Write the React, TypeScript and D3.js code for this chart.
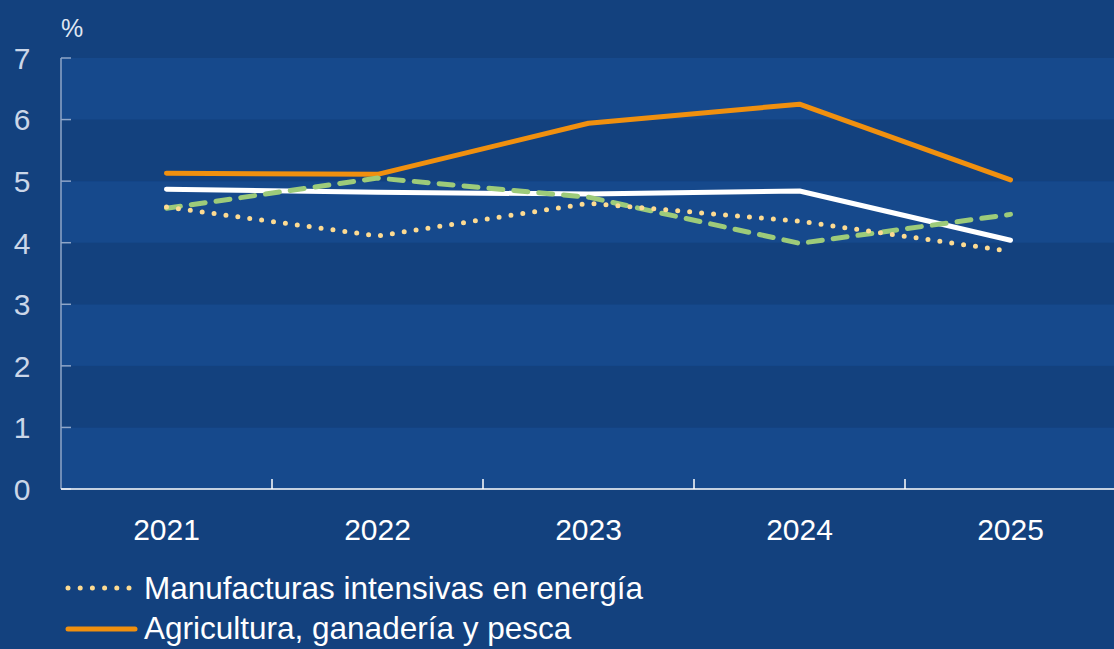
import React from "react";
import * as d3 from "d3";

const years = ["2021", "2022", "2023", "2024", "2025"];
const manufacturas = [4.58, 4.11, 4.64, 4.35, 3.86];
const agricultura = [5.13, 5.11, 5.94, 6.25, 5.02];
const serieBlanca = [4.87, 4.82, 4.79, 4.84, 4.04];
const serieVerde = [4.56, 5.05, 4.74, 3.99, 4.46];
const yTicks = [0, 1, 2, 3, 4, 5, 6, 7];
const legendLabels = ["Manufacturas intensivas en energía", "Agricultura, ganadería y pesca"];

const W = 1114;
const H = 649;
const FONT = "'Liberation Sans', Arial, Helvetica, sans-serif";

export default function App() {
  const x = d3.scaleBand().domain(years).range([61, 1116]).padding(0);
  const y = d3.scaleLinear().domain([0, 7]).range([489, 58]);
  const line = d3
    .line<number>()
    .x((_, i) => (x(years[i]) as number) + x.bandwidth() / 2)
    .y((d) => y(d));

  const bands = d3.range(0, 7);
  const boundaries = years.slice(1).map((yr) => x(yr) as number);

  return (
    <svg width={W} height={H} style={{ position: "absolute", left: 0, top: 0, display: "block" }}>
      <rect x={0} y={0} width={W} height={H} fill="#13417e" />
      {bands.map((b) => (
        <rect
          key={b}
          x={61}
          y={y(b + 1)}
          width={W - 61}
          height={y(b) - y(b + 1)}
          fill={b % 2 === 0 ? "#16498c" : "#13417e"}
        />
      ))}
      {/* y axis */}
      <line x1={61} x2={61} y1={y(7)} y2={y(0)} stroke="#8fa6c8" strokeWidth={1.5} />
      {yTicks.map((t) => (
        <g key={t}>
          <line x1={61} x2={71} y1={y(t)} y2={y(t)} stroke="#8fa6c8" strokeWidth={1.5} />
          <text
            x={22}
            y={y(t)}
            dy="0.36em"
            textAnchor="middle"
            fontFamily={FONT}
            fontSize={30}
            fill="#cbd6e8"
          >
            {t}
          </text>
        </g>
      ))}
      <text x={61} y={37} fontFamily={FONT} fontSize={25} fill="#dfe6f2">
        %
      </text>
      {/* x axis */}
      <line x1={61} x2={W} y1={y(0)} y2={y(0)} stroke="#ffffff" strokeWidth={1.5} />
      {boundaries.map((bx, i) => (
        <line key={i} x1={bx} x2={bx} y1={y(0)} y2={y(0) - 10} stroke="#ffffff" strokeWidth={1.5} />
      ))}
      {years.map((yr) => (
        <text
          key={yr}
          x={(x(yr) as number) + x.bandwidth() / 2}
          y={540}
          textAnchor="middle"
          fontFamily={FONT}
          fontSize={30}
          fill="#ffffff"
        >
          {yr}
        </text>
      ))}
      {/* series */}
      <path d={line(agricultura) || ""} fill="none" stroke="#f0900f" strokeWidth={5} strokeLinecap="round" strokeLinejoin="round" />
      <path d={line(serieBlanca) || ""} fill="none" stroke="#ffffff" strokeWidth={5} strokeLinecap="round" strokeLinejoin="round" />
      <path d={line(serieVerde) || ""} fill="none" stroke="#9dcb7a" strokeWidth={5} strokeLinecap="round" strokeDasharray="14 11" />
      <path d={line(manufacturas) || ""} fill="none" stroke="#fddb92" strokeWidth={5} strokeLinecap="round" strokeDasharray="0 12" />
      {/* legend */}
      <line x1={68} x2={129} y1={588} y2={588} stroke="#fddb92" strokeWidth={5} strokeLinecap="round" strokeDasharray="0 12.2" />
      <text x={144} y={599} fontFamily={FONT} fontSize={31.5} fill="#ffffff">
        {legendLabels[0]}
      </text>
      <line x1={68} x2={135} y1={629} y2={629} stroke="#f0900f" strokeWidth={5} strokeLinecap="round" />
      <text x={144} y={639} fontFamily={FONT} fontSize={31.5} fill="#ffffff">
        {legendLabels[1]}
      </text>
    </svg>
  );
}
